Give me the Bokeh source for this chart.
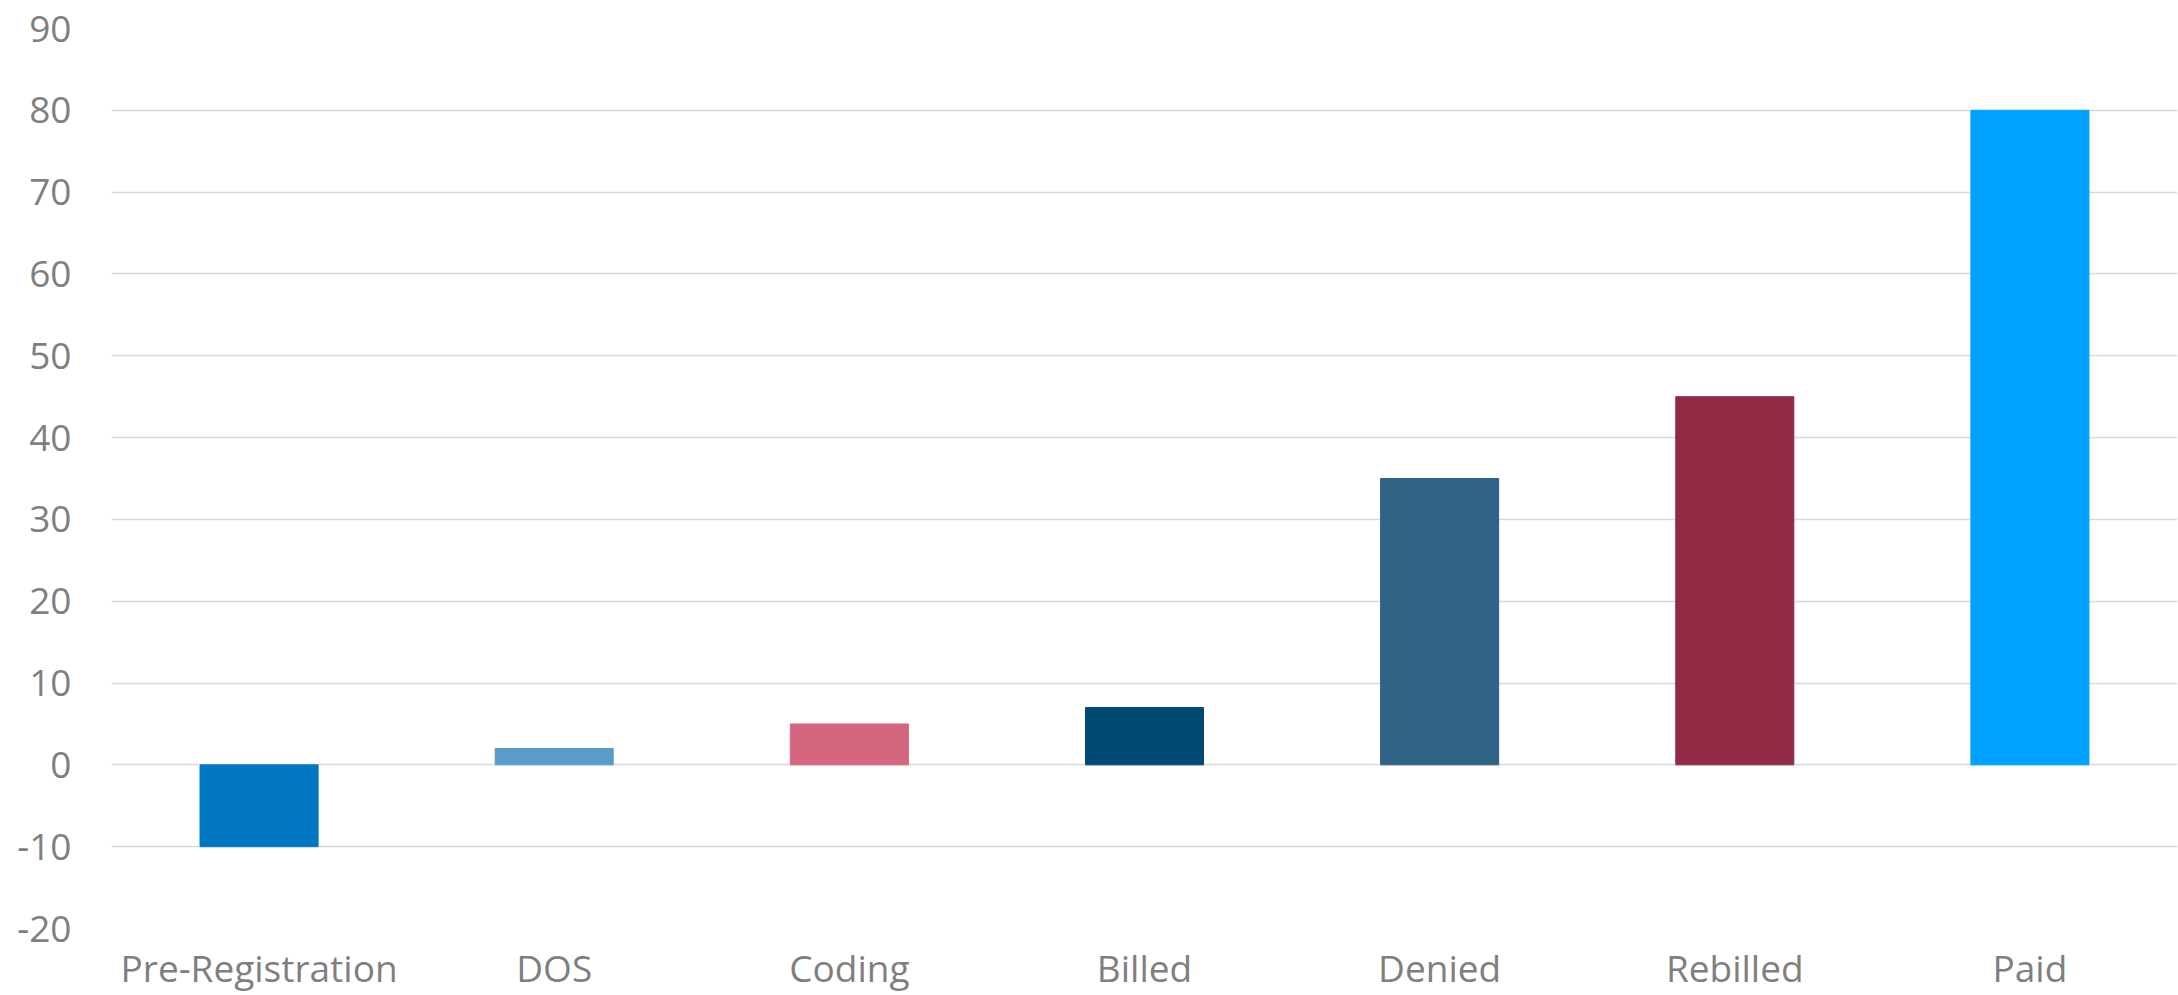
from bokeh.plotting import figure
from bokeh.models import ColumnDataSource, FactorRange, Range1d, FixedTicker, CustomJSTickFormatter
from bokeh.embed import file_html
from bokeh.resources import INLINE

categories = ["Pre-Registration", "DOS", "Coding", "Billed", "Denied", "Rebilled", "Paid"]
values = [-10, 2, 5, 7, 35, 45, 80]
colors = ["#0077C0", "#5B9BC8", "#D5667F", "#004A73", "#2F6285", "#922A46", "#00A2FF"]
y_ticks = [-20, -10, 0, 10, 20, 30, 40, 50, 60, 70, 80, 90]

src = ColumnDataSource(dict(cat=categories, val=values, color=colors))

p = figure(x_range=FactorRange(*categories, range_padding=0), y_range=Range1d(-20, 90),
           width=2178, height=995, output_backend="svg", toolbar_location=None,
           min_border_left=111, min_border_right=1, min_border_top=28, min_border_bottom=66)
p.vbar(x="cat", top="val", bottom=0, width=0.4, color="color", source=src)

p.outline_line_color = None
p.xgrid.grid_line_color = None
p.ygrid.grid_line_color = "#D9D9D9"
p.ygrid.grid_line_width = 1.5
p.yaxis.ticker = FixedTicker(ticks=y_ticks)
p.yaxis.formatter = CustomJSTickFormatter(code="return String(tick);")

for ax in (p.xaxis, p.yaxis):
    ax.axis_line_color = None
    ax.major_tick_line_color = None
    ax.minor_tick_line_color = None
    ax.major_tick_out = 0
    ax.major_label_text_font = "Open Sans"
    ax.major_label_text_font_size = "37px"
    ax.major_label_text_color = "#7F7F7F"
p.yaxis.major_label_standoff = 40
p.xaxis.major_label_standoff = 13
p.xaxis.group_text_font_size = "0px"

open("out.html", "w").write(file_html(p, INLINE))
